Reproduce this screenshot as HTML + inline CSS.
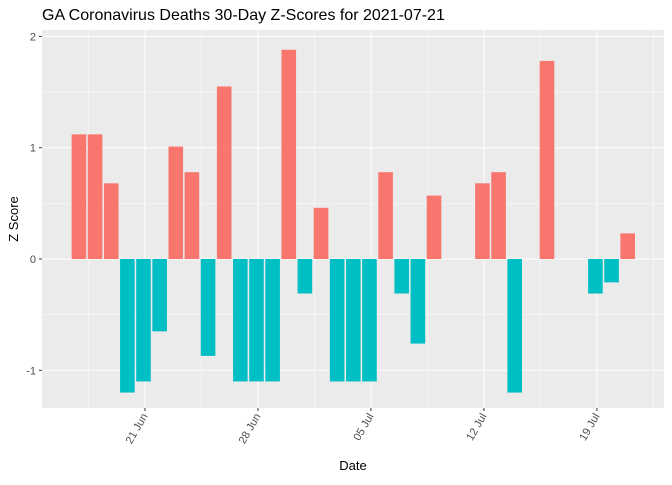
<!DOCTYPE html>
<html><head><meta charset="utf-8"><style>body{margin:0;background:#fff}svg{font-family:"Liberation Sans",sans-serif}</style></head>
<body>
<svg id="c" width="672" height="480"></svg>
<script>
const dayLabels=["Jun 17","Jun 18","Jun 19","Jun 20","Jun 21","Jun 22","Jun 23","Jun 24","Jun 25","Jun 26","Jun 27","Jun 28","Jun 29","Jun 30","Jul 01","Jul 02","Jul 03","Jul 04","Jul 05","Jul 06","Jul 07","Jul 08","Jul 09","Jul 10","Jul 11","Jul 12","Jul 13","Jul 14","Jul 15","Jul 16","Jul 17","Jul 18","Jul 19","Jul 20","Jul 21"];
const zScores=[1.12,1.12,0.68,-1.2,-1.1,-0.65,1.01,0.78,-0.87,1.55,-1.1,-1.1,-1.1,1.88,-0.31,0.46,-1.1,-1.1,-1.1,0.78,-0.31,-0.76,0.57,null,null,0.68,0.78,-1.2,null,1.78,null,null,-0.31,-0.21,0.23];
const yTicks=[-1,0,1,2];
const xTickIdx=[4,11,18,25,32];
const xTickLabels=["21 Jun","28 Jun","05 Jul","12 Jul","19 Jul"];
const svg=document.getElementById('c');const NS="http://www.w3.org/2000/svg";
function mk(t,a,p){const e=document.createElementNS(NS,t);for(const k in a)e.setAttribute(k,a[k]);(p||svg).appendChild(e);return e;}
const L=42,R=664,T=30,B=408;
const x=d=>145+(d-4)*16.14;
const bx=d=>x(d)-1.5;
const y=v=>259-v*111.3;
const bg=mk('rect',{x:L,y:T,width:R-L,height:B-T,fill:'#EBEBEB'});


[-0.5,0.5,1.5].forEach(v=>{const l=mk('line',{x1:L,x2:R,y1:y(v),y2:y(v),stroke:'#fff','stroke-width':0.5});});
xTickIdx.concat([xTickIdx[xTickIdx.length-1]+7]).forEach(d=>{const l=mk('line',{x1:x(d-3.5),x2:x(d-3.5),y1:T,y2:B,stroke:'#fff','stroke-width':0.5});});
yTicks.forEach(v=>{const l=mk('line',{x1:L,x2:R,y1:y(v),y2:y(v),stroke:'#fff','stroke-width':1});
mk('line',{x1:L-3,x2:L,y1:y(v),y2:y(v),stroke:'#333'});
const t=mk('text',{x:L-6,y:y(v)+4,'text-anchor':'end','font-size':11,fill:'#4D4D4D'});t.textContent=v;});
xTickIdx.forEach((d,i)=>{const l=mk('line',{x1:x(d),x2:x(d),y1:T,y2:B,stroke:'#fff','stroke-width':1});
mk('line',{x1:x(d),x2:x(d),y1:B,y2:B+3,stroke:'#333'});
const t=mk('text',{x:x(d)+3,y:B+8,'text-anchor':'end','font-size':11,fill:'#4D4D4D',transform:`rotate(-60 ${x(d)+3} ${B+8})`});t.textContent=xTickLabels[i];});
zScores.forEach((v,i)=>{if(v===null)return;const y0=y(0),y1=y(v);const r=mk('rect',{x:bx(i)-7.3,width:14.6,y:Math.min(y0,y1),height:Math.abs(y1-y0),fill:v>0?'#F8766D':'#00BFC4'});});
let t=mk('text',{x:42,y:20,'font-size':16,fill:'#000'});t.textContent="GA Coronavirus Deaths 30-Day Z-Scores for 2021-07-21";
t=mk('text',{x:353,y:470,'text-anchor':'middle','font-size':13,fill:'#000'});t.textContent="Date";
t=mk('text',{x:18,y:219,'text-anchor':'middle','font-size':13,fill:'#000',transform:'rotate(-90 18 219)'});t.textContent="Z Score";
</script>
</body></html>
